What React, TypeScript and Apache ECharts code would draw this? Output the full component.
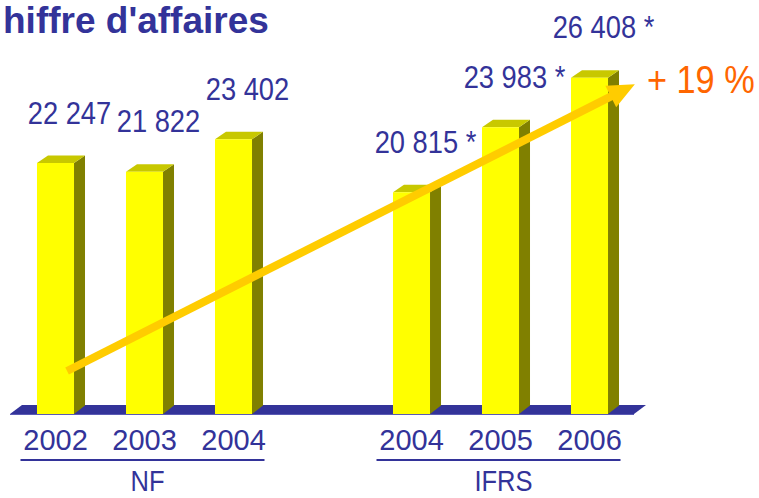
import React, { useEffect, useRef } from "react";
import * as echarts from "echarts";

// ---- data ----
const CATEGORIES = ["2002", "2003", "2004", "", "2004", "2005", "2006"];
const VALUES: (number | null)[] = [22247, 21822, 23402, null, 20815, 23983, 26408];
const VALUE_LABELS = ["22 247", "21 822", "23 402", "", "20 815 *", "23 983 *", "26 408 *"];
const GROUP_NAMES = ["NF", "IFRS"];
const GROUP_STARTS = [0, 4];
const GROUP_ENDS = [2, 6];
const TITLE = "hiffre d'affaires";
const GROWTH_LABEL = "+ 19 %";
const Y_MIN = 10000;
const Y_MAX = 30000;
// trend arrow: from (category, value) to (category, value)
const ARROW_FROM: [number, number] = [0, 12100];
const ARROW_TO: [number, number] = [6, 26080];

// ---- styles ----
const FONT = '"Liberation Sans", Arial, Helvetica, sans-serif';
const BLUE = "#333399";
const FRONT = "#FFFF00";
const SIDE = "#808000";
const TOP = "#C8C800";
const ARROW_COLOR = "#FFCC00";
const ORANGE = "#FF6600";
const DX = 11;
const DY = 7.5;
const NARROW_SCALE = 0.88;

export default function App() {
  const ref = useRef<HTMLDivElement>(null);

  useEffect(() => {
    if (!ref.current) return;
    const chart = echarts.init(ref.current, undefined, { renderer: "svg" });

    const barData = VALUES.map((v, i) => (v == null ? null : [i, v])).filter(Boolean) as number[][];

    const narrowText = (text: string, x: number, y: number, size: number, fill: string, align = "center") => ({
      type: "text",
      x,
      y,
      scaleX: NARROW_SCALE,
      style: {
        text,
        x: 0,
        y: 0,
        align,
        verticalAlign: "middle",
        fill,
        font: `${size}px ${FONT}`,
      },
    });

    const option: any = {
      animation: false,
      backgroundColor: "#ffffff",
      grid: { left: 11, right: 125, top: 4, bottom: 84, containLabel: false },
      xAxis: {
        type: "category",
        data: CATEGORIES,
        boundaryGap: true,
        axisLine: { show: false },
        axisTick: { show: false },
        splitLine: { show: false },
        axisLabel: {
          interval: 0,
          color: BLUE,
          fontSize: 29,
          fontFamily: FONT,
          margin: 11,
        },
      },
      yAxis: {
        type: "value",
        min: Y_MIN,
        max: Y_MAX,
        show: false,
        splitLine: { show: false },
      },
      graphic: [
        {
          type: "text",
          left: 3,
          top: 2,
          style: {
            text: TITLE,
            fill: BLUE,
            font: `bold 37px ${FONT}`,
          },
        },
      ],
      series: [
        {
          // floor
          type: "custom",
          data: [[0, Y_MIN]],
          silent: true,
          renderItem: (params: any, api: any) => {
            const band = api.size([1, 0])[0];
            const a = api.coord([0, Y_MIN]);
            const b = api.coord([CATEGORIES.length - 1, Y_MIN]);
            const x0 = a[0] - band / 2;
            const x1 = b[0] + band / 2;
            const y = a[1];
            return {
              type: "group",
              children: [
                {
                  type: "polygon",
                  shape: { points: [[x0 - 1, y], [x1, y], [x1 + 12, y - 9], [x0 + 11, y - 9]] },
                  style: { fill: BLUE },
                },
                {
                  type: "line",
                  shape: { x1: x0 - 1, y1: y + 0.5, x2: x1, y2: y + 0.5 },
                  style: { stroke: "#5a5ab4", lineWidth: 1 },
                },
              ],
            };
          },
        },
        {
          // 3D bars
          type: "custom",
          data: barData,
          silent: true,
          renderItem: (params: any, api: any) => {
            const idx = api.value(0);
            const top = api.coord([idx, api.value(1)]);
            const base = api.coord([idx, Y_MIN]);
            const band = api.size([1, 0])[0];
            const w = band * 0.416;
            const xl = top[0] - w / 2;
            const xr = top[0] + w / 2;
            const yt = top[1];
            const yb = base[1];
            return {
              type: "group",
              children: [
                {
                  type: "polygon",
                  shape: { points: [[xr, yt], [xr + DX, yt - DY], [xr + DX, yb - DY - 1], [xr, yb]] },
                  style: { fill: SIDE },
                },
                {
                  type: "polygon",
                  shape: { points: [[xl, yt], [xl + DX, yt - DY], [xr + DX, yt - DY], [xr, yt]] },
                  style: { fill: TOP },
                },
                {
                  type: "rect",
                  shape: { x: xl, y: yt, width: w, height: yb - yt },
                  style: { fill: FRONT },
                },
                narrowText(VALUE_LABELS[idx], top[0] + 14, yt - 50, 31, BLUE),
              ],
            };
          },
        },
        {
          // trend arrow + growth label
          type: "custom",
          data: [ARROW_FROM],
          silent: true,
          renderItem: (params: any, api: any) => {
            const band = api.size([1, 0])[0];
            const p0 = api.coord(ARROW_FROM);
            const p1 = api.coord(ARROW_TO);
            const sx = p0[0] + band * 0.13;
            const sy = p0[1];
            const tx = p1[0] + band * 0.51;
            const ty = p1[1];
            const len = Math.hypot(tx - sx, ty - sy);
            const ux = (tx - sx) / len;
            const uy = (ty - sy) / len;
            const nx = -uy;
            const ny = ux;
            const L = 27;
            const hw = 12;
            const bx = tx - ux * L;
            const by = ty - uy * L;
            return {
              type: "group",
              children: [
                {
                  type: "line",
                  shape: { x1: sx, y1: sy, x2: bx + ux * 2, y2: by + uy * 2 },
                  style: { stroke: ARROW_COLOR, lineWidth: 8, lineCap: "butt" },
                },
                {
                  type: "polygon",
                  shape: { points: [[tx, ty], [bx + nx * hw, by + ny * hw], [bx - nx * hw, by - ny * hw]] },
                  style: { fill: ARROW_COLOR },
                },
                narrowText(GROWTH_LABEL, tx + 12, ty - 5, 39, ORANGE, "left"),
              ],
            };
          },
        },
        {
          // group labels (NF / IFRS) with underline
          type: "custom",
          data: GROUP_STARTS.map((s) => [s, Y_MIN]),
          silent: true,
          renderItem: (params: any, api: any) => {
            const i = params.dataIndex;
            const a = api.coord([GROUP_STARTS[i], Y_MIN]);
            const b = api.coord([GROUP_ENDS[i], Y_MIN]);
            const y = a[1];
            return {
              type: "group",
              children: [
                {
                  type: "rect",
                  shape: { x: a[0] - 35, y: y + 45, width: b[0] - a[0] + 66, height: 2 },
                  style: { fill: BLUE },
                },
                narrowText(GROUP_NAMES[i], (a[0] + b[0]) / 2 + 3, y + 67, 29, BLUE),
              ],
            };
          },
        },
      ],
    };

    chart.setOption(option);
    return () => chart.dispose();
  }, []);

  return (
    <div
      ref={ref}
      style={{ position: "fixed", left: 0, top: 0, width: 759, height: 498, background: "#fff" }}
    />
  );
}
